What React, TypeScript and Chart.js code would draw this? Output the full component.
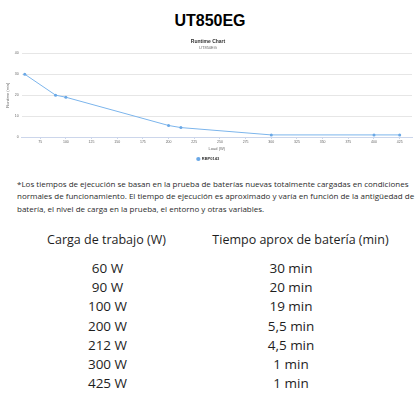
import React, { useEffect, useRef } from 'react';
import { Chart, registerables } from 'chart.js';

Chart.register(...registerables);

// Chart values
const loads = [60, 90, 100, 200, 212, 300, 400, 425];
const runtimes = [30, 20, 19, 5.5, 4.5, 1, 1, 1];
const xTicks = [75, 100, 125, 150, 175, 200, 225, 250, 275, 300, 325, 350, 375, 400, 425];
const yTicks = [0, 10, 20, 30, 40];

// Table below the chart
const tableLoads = ['60 W', '90 W', '100 W', '200 W', '212 W', '300 W', '425 W'];
const tableTimes = ['30 min', '20 min', '19 min', '5,5 min', '4,5 min', '1 min', '1 min'];

const noteLines = [
  '*Los tiempos de ejecución se basan en la prueba de baterías nuevas totalmente cargadas en condiciones',
  'normales de funcionamiento. El tiempo de ejecución es aproximado y varía en función de la antigüedad de la',
  'batería, el nivel de carga en la prueba, el entorno y otras variables.',
];

const chartFont = '"Liberation Sans", Arial, sans-serif';
const textFont = '"Open Sans", sans-serif';

const RuntimeChart: React.FC = () => {
  const chartRef = useRef<HTMLCanvasElement>(null);
  const chartInstance = useRef<Chart | null>(null);

  useEffect(() => {
    if (!chartRef.current) return;
    if (chartInstance.current) {
      chartInstance.current.destroy();
    }
    const ctx = chartRef.current.getContext('2d');
    if (!ctx) return;

    chartInstance.current = new Chart(ctx, {
      type: 'line',
      data: {
        datasets: [
          {
            label: 'RBP0143',
            data: loads.map((x, i) => ({ x, y: runtimes[i] })),
            borderColor: '#7cb5ec',
            backgroundColor: '#6aa8e6',
            borderWidth: 1,
            pointRadius: 1.5,
            pointBorderWidth: 0,
            pointStyle: 'circle',
            tension: 0,
          },
        ],
      },
      options: {
        animation: false,
        responsive: true,
        maintainAspectRatio: false,
        layout: { padding: { left: 4, right: 4, top: 0, bottom: 2 } },
        plugins: {
          title: {
            display: true,
            text: 'Runtime Chart',
            color: '#333333',
            font: { family: chartFont, size: 5, weight: 'bold' },
            padding: { top: 5, bottom: 0 },
          },
          subtitle: {
            display: true,
            text: 'UT850EG',
            color: '#666666',
            font: { family: chartFont, size: 4 },
            padding: { top: 0.5, bottom: 3 },
          },
          legend: {
            position: 'bottom',
            labels: {
              usePointStyle: true,
              boxWidth: 3,
              boxHeight: 3,
              padding: 4,
              color: '#333333',
              font: { family: chartFont, size: 4, weight: 'bold' },
            },
          },
          tooltip: { enabled: false },
        },
        scales: {
          x: {
            type: 'linear',
            min: 57,
            max: 437,
            afterBuildTicks: (axis) => {
              axis.ticks = xTicks.map((v) => ({ value: v }));
            },
            title: {
              display: true,
              text: 'Load (W)',
              color: '#666666',
              font: { family: chartFont, size: 4 },
              padding: { top: 1, bottom: 2 },
            },
            ticks: {
              color: '#666666',
              font: { family: chartFont, size: 3.5 },
              padding: 1,
              maxRotation: 0,
              autoSkip: false,
            },
            grid: {
              drawOnChartArea: false,
              drawTicks: true,
              tickLength: 2,
              color: '#ccd6eb',
            },
            border: { color: '#ccd6eb', width: 1 },
          },
          y: {
            min: 0,
            max: 40,
            afterBuildTicks: (axis) => {
              axis.ticks = yTicks.map((v) => ({ value: v }));
            },
            title: {
              display: true,
              text: 'Runtime (min)',
              color: '#666666',
              font: { family: chartFont, size: 4 },
              padding: { top: 1, bottom: 2 },
            },
            ticks: {
              color: '#666666',
              font: { family: chartFont, size: 3.5 },
              padding: 3,
            },
            grid: {
              color: '#e6e6e6',
              drawTicks: false,
            },
            border: { display: false },
          },
        },
      },
    });

    return () => {
      if (chartInstance.current) {
        chartInstance.current.destroy();
        chartInstance.current = null;
      }
    };
  }, []);

  return <canvas ref={chartRef} />;
};

const App: React.FC = () => {
  const rowTop = 268;
  const rowStep = 19.2;
  return (
    <div
      style={{
        position: 'fixed',
        left: 0,
        top: 0,
        width: 416,
        height: 416,
        background: '#ffffff',
        overflow: 'hidden',
      }}
    >
      <div
        style={{
          position: 'absolute',
          left: 2,
          top: 11,
          width: 416,
          textAlign: 'center',
          fontFamily: chartFont,
          fontWeight: 'bold',
          fontSize: 16,
          lineHeight: '20px',
          color: '#000000',
        }}
      >
        UT850EG
      </div>

      <div style={{ position: 'absolute', left: 0, top: 34, width: 416, height: 139 }}>
        <RuntimeChart />
      </div>

      {noteLines.map((line, i) => (
        <div
          key={i}
          style={{
            position: 'absolute',
            left: 17,
            top: 183.5 + i * 12.5 - 6,
            whiteSpace: 'nowrap',
            fontFamily: textFont,
            fontSize: 8,
            lineHeight: '12px',
            color: '#2b2b2b',
          }}
        >
          {line}
        </div>
      ))}

      <div
        style={{
          position: 'absolute',
          left: 106.5 - 100,
          top: 239.5 - 10,
          width: 200,
          textAlign: 'center',
          fontFamily: textFont,
          fontSize: 12.5,
          lineHeight: '20px',
          color: '#1e1e1e',
          whiteSpace: 'nowrap',
        }}
      >
        Carga de trabajo (W)
      </div>
      <div
        style={{
          position: 'absolute',
          left: 300.5 - 110,
          top: 239.5 - 10,
          width: 220,
          textAlign: 'center',
          fontFamily: textFont,
          fontSize: 12.5,
          lineHeight: '20px',
          color: '#1e1e1e',
          whiteSpace: 'nowrap',
        }}
      >
        Tiempo aprox de batería (min)
      </div>

      {tableLoads.map((load, i) => (
        <React.Fragment key={i}>
          <div
            style={{
              position: 'absolute',
              left: 107.5 - 50,
              top: rowTop + i * rowStep - 10,
              width: 100,
              textAlign: 'center',
              fontFamily: textFont,
              fontSize: 13.5,
              lineHeight: '20px',
              color: '#1e1e1e',
            }}
          >
            {load}
          </div>
          <div
            style={{
              position: 'absolute',
              left: 291 - 50,
              top: rowTop + i * rowStep - 10,
              width: 100,
              textAlign: 'center',
              fontFamily: textFont,
              fontSize: 13.5,
              lineHeight: '20px',
              color: '#1e1e1e',
            }}
          >
            {tableTimes[i]}
          </div>
        </React.Fragment>
      ))}
    </div>
  );
};

export default App;
